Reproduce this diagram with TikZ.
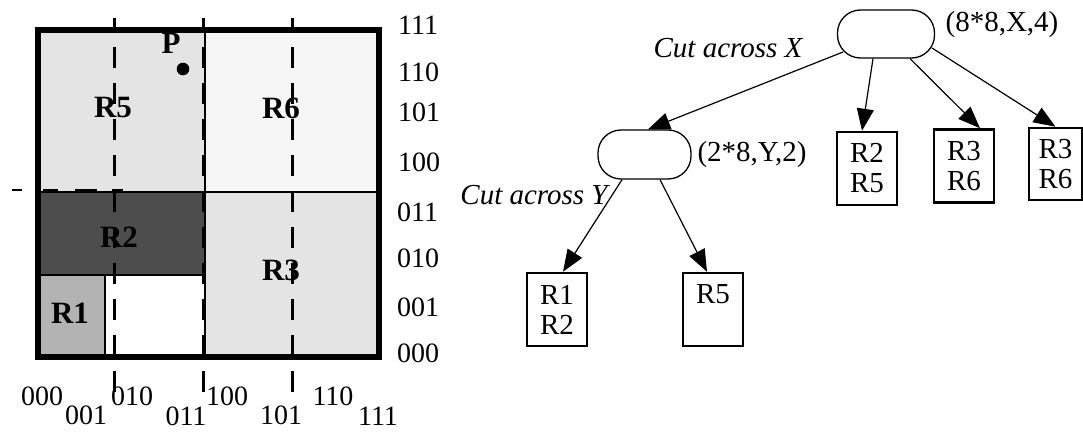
\documentclass[tikz,border=0pt]{standalone}
\usepackage{fontspec}
\setmainfont{Liberation Serif}
\usetikzlibrary{arrows.meta,calc}
\definecolor{rfive}{HTML}{E4E4E4}
\definecolor{rsix}{HTML}{F6F6F6}
\definecolor{rthree}{HTML}{E4E4E4}
\definecolor{rtwo}{HTML}{4D4D4D}
\definecolor{rone}{HTML}{B3B3B3}
\begin{document}
\begin{tikzpicture}[x=1pt,y=-1pt,
  thinln/.style={line width=1.5pt},
  cutln/.style={line width=3pt, dash pattern=on 21pt off 15pt, dash phase=7pt},
  reglab/.style={inner sep=0pt, font=\bfseries\fontsize{31}{32}\selectfont},
  axlab/.style={inner sep=0pt, font=\fontsize{28}{30}\selectfont},
  txt/.style={inner sep=0pt, font=\fontsize{29}{30}\selectfont},
  itx/.style={inner sep=0pt, font=\itshape\fontsize{29}{30}\selectfont},
  rnode/.style={draw, line width=1.3pt, rounded corners=23pt, minimum width=97pt, minimum height=48pt, inner sep=0pt},
  leaf/.style={draw, line width=2.5pt, minimum width=60pt, minimum height=73pt, inner sep=0pt, align=center, font=\fontsize{29}{30}\selectfont},
  edge/.style={line width=1.2pt, -{Triangle[length=22pt,width=17pt]}}
]
\useasboundingbox (0,0) rectangle (1083,431);
% ---------- left panel: regions ----------
\fill[rfive]  (38,29.5) rectangle (205,192);
\fill[rsix]   (205,29.5) rectangle (378.5,192);
\fill[rthree] (205,192) rectangle (378.5,357);
\fill[rtwo]   (38,192) rectangle (204,275);
\fill[rone]   (38,275) rectangle (105,357);
\fill[white]  (105,275) rectangle (204,357);
\draw[thinln] (38,192) -- (378.5,192);
\draw[thinln] (205,29.5) -- (205,357);
\draw[thinln] (38,275) -- (204,275);
\draw[thinln] (105,275) -- (105,357);
\draw[line width=6pt] (38,29.5) rectangle (378.5,357);
% labels in regions
\node[reglab] (lR5) at (113,108) {R5};
\node[reglab] (lR6) at (281,108) {R6};
\node[reglab] (lR2) at (119,237) {R2};
\node[reglab] (lR3) at (281,270) {R3};
\node[reglab] (lR1) at (70,313) {R1};
\node[reglab] (lP) at (171,43) {P};
\fill (183,69) circle (6.3pt);
% cut lines
\draw[cutln] (114,18) -- (114,398);
\draw[cutln] (203,18) -- (203,398);
\draw[cutln] (292,18) -- (292,398);
\draw[line width=2.5pt, dash pattern=on 10pt off 21pt on 15pt off 17pt on 22pt off 15pt on 11pt] (12,190) -- (123,190);
% right axis labels
\node[axlab, anchor=west] (y111) at (398,25.5) {111};
\node[axlab, anchor=west] (y110) at (398,72) {110};
\node[axlab, anchor=west] (y101) at (398,112) {101};
\node[axlab, anchor=west] (y100) at (398,162) {100};
\node[axlab, anchor=west] (y011) at (397,212) {011};
\node[axlab, anchor=west] (y010) at (397,258) {010};
\node[axlab, anchor=west] (y001) at (397,307) {001};
\node[axlab, anchor=west] (y000) at (397,353) {000};
% bottom axis labels
\node[axlab] (x000) at (42,396) {000};
\node[axlab] (x001) at (86,415) {001};
\node[axlab] (x010) at (132,396) {010};
\node[axlab] (x011) at (186,416) {011};
\node[axlab] (x100) at (227,396) {100};
\node[axlab] (x101) at (281,415) {101};
\node[axlab] (x110) at (333,396) {110};
\node[axlab] (x111) at (378,416) {111};
% ---------- right panel: tree ----------
\node[rnode] (root) at (886,34) {};
\node[rnode, minimum width=93pt, minimum height=49pt] (Y) at (644.5,154.5) {};
\node[leaf] (B25) at (867,168.5) {R2\\R5};
\node[leaf] (B36a) at (964,166) {R3\\R6};
\node[leaf, minimum width=53pt, minimum height=72pt] (B36b) at (1055.5,164) {R3\\R6};
\node[leaf] (B12) at (557,309.5) {R1\\R2};
\node[leaf] (B5) at (713,309.5) {R5\\\phantom{R2}};
\node[txt] (lroot) at (1002,25) {(8*8,X,4)};
\node[itx] (cutx) at (728,48) {Cut across X};
\node[txt] (lY) at (752,155) {(2*8,Y,2)};
\node[itx] (cuty) at (534,195) {Cut across Y};
% edges
\draw[edge] ([xshift=-43pt,yshift=-18pt]root.center) -- ([xshift=3.5pt]Y.north);
\draw[edge] ([xshift=-13pt]root.south) -- ([xshift=-5pt]B25.north);
\draw[edge] ([xshift=24pt]root.south) -- ([xshift=16pt]B36a.north);
\draw[edge] ([xshift=46pt,yshift=-14pt]root.center) -- (B36b.north);
\draw[edge] ([xshift=-22.5pt]Y.south) -- ([xshift=6pt]B12.north);
\draw[edge] ([xshift=15.5pt]Y.south) -- ([xshift=-6pt]B5.north);
\end{tikzpicture}
\end{document}
